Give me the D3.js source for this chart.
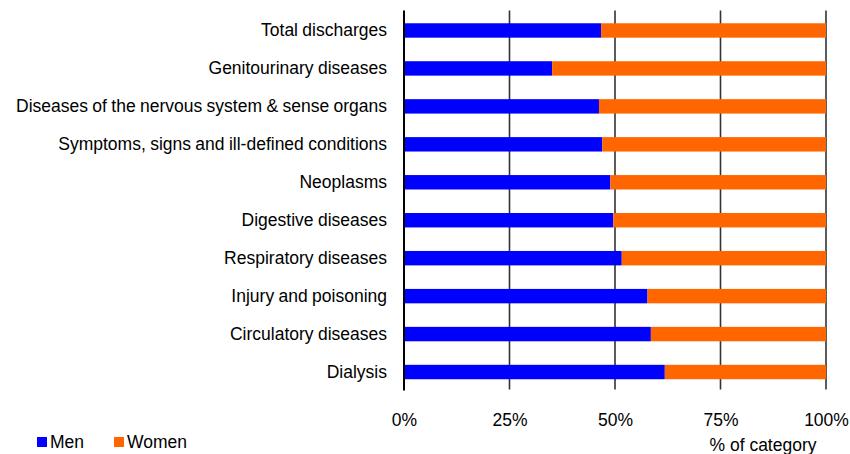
<!DOCTYPE html>
<html><head><meta charset="utf-8">
<script src="https://cdn.jsdelivr.net/npm/d3@7"></script>
<style>
html,body{margin:0;padding:0;background:#fff;}
svg{display:block;font-family:"Liberation Sans",Arial,sans-serif;}
</style></head>
<body>
<svg id="chart" width="850" height="454"></svg>
<script>
const categories = ["Total discharges","Genitourinary diseases","Diseases of the nervous system & sense organs","Symptoms, signs and ill-defined conditions","Neoplasms","Digestive diseases","Respiratory diseases","Injury and poisoning","Circulatory diseases","Dialysis"];
const men = [46.7,35.1,46.2,47.0,48.9,49.6,51.6,57.7,58.5,61.8];
const women = [53.3,64.9,53.8,53.0,51.1,50.4,48.4,42.3,41.5,38.2];
const seriesNames = ["Men","Women"];
const colors = ["#0000FF","#FF6600"];
const tickValues = [0,25,50,75,100];
const tickLabels = ["0%","25%","50%","75%","100%"];
const axisTitle = "% of category";

const FS = 17.5;
const svg = d3.select("#chart");
const pLeft = 404, pRight = 826, pTop = 11.5, pBottom = 391;
const x = d3.scaleLinear().domain([0,100]).range([pLeft,pRight]);
const y = d3.scaleBand().domain(categories).range([pTop,pBottom]).paddingInner(0.62).paddingOuter(0.31);

// gridlines
svg.append("g").selectAll("line").data(tickValues.slice(1)).join("line")
  .attr("x1",d=>x(d)).attr("x2",d=>x(d)).attr("y1",pTop-1).attr("y2",389.5)
  .attr("stroke","#333").attr("stroke-width",1.6);

const data = categories.map((c,i)=>({cat:c, vals:[men[i],women[i]]}));
const stacked = d3.stack().keys([0,1]).value((d,k)=>d.vals[k])(data);
svg.append("g").selectAll("g").data(stacked).join("g")
  .attr("fill",(d,i)=>colors[i])
  .selectAll("rect").data(d=>d).join("rect")
  .attr("x",d=>x(d[0])).attr("width",d=>x(d[1])-x(d[0]))
  .attr("y",d=>y(d.data.cat)).attr("height",y.bandwidth());

// left axis line
svg.append("line").attr("x1",pLeft).attr("x2",pLeft).attr("y1",pTop-1).attr("y2",390.5)
  .attr("stroke","#000").attr("stroke-width",2);

// category labels
const yAxis = d3.axisLeft(y).tickSize(0).tickPadding(17);
const gy = svg.append("g").attr("transform",`translate(${pLeft},0)`).call(yAxis);
gy.select(".domain").remove();
gy.selectAll("text").attr("font-size",FS).attr("fill","#000")
  .attr("font-family","'Liberation Sans',Arial,sans-serif").attr("word-spacing","-0.5px").attr("dy","0.34em");

// x tick labels
const xAxis = d3.axisBottom(x).tickValues(tickValues).tickFormat((d,i)=>tickLabels[i]).tickSize(0).tickPadding(0);
const gx = svg.append("g").attr("transform",`translate(0,426)`).call(xAxis);
gx.select(".domain").remove();
gx.selectAll("text").attr("font-size",FS).attr("fill","#000").attr("y",0)
  .attr("font-family","'Liberation Sans',Arial,sans-serif").attr("dy","0");

svg.append("text").attr("x",763).attr("y",451).attr("text-anchor","middle")
  .attr("font-size",FS).attr("fill","#000").text(axisTitle);

// legend
const legX = [37,114];
seriesNames.forEach((n,i)=>{
  svg.append("rect").attr("x",legX[i]).attr("y",437).attr("width",10).attr("height",10).attr("fill",colors[i]);
  svg.append("text").attr("x",legX[i]+13).attr("y",448).attr("font-size",FS).attr("fill","#000").text(n);
});
</script>
</body></html>
